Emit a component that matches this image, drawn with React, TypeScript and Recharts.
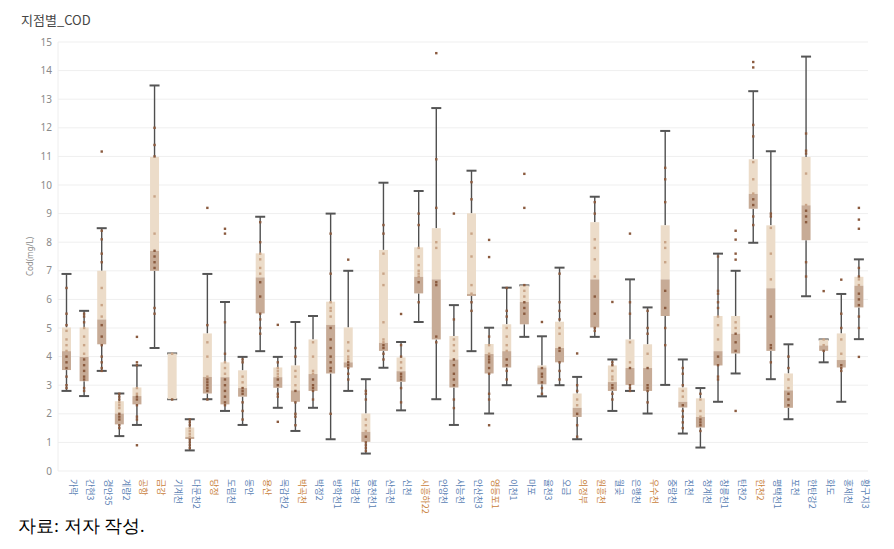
import React from "react";
import { ComposedChart, Bar, XAxis, YAxis, CartesianGrid } from "recharts";

const stations = [
  "가락", "간현3", "경안35", "계량2", "공항", "금강", "기계천", "다문천2",
  "당정", "도림천", "동안", "용산", "목감천2", "박곡천", "박정2", "방학천1",
  "보광천", "봉천천1", "산곡천", "신천", "시흥하22", "안양천", "사능천", "안산천3",
  "영등포1", "이천1", "마포", "율천3", "오금", "의정부", "원흥천", "월곶",
  "은행천", "우수천", "중랑천", "진천", "청계천", "창릉천1", "탄천2", "한천2",
  "평택천1", "포천", "한탄강2", "화도", "홍제천", "황구지3",
];

// orange labels, the rest are blue
const orangeLabels = [4, 5, 8, 11, 13, 20, 24, 29, 30, 33, 39];

const whiskerLow = [
  2.8, 2.62, 3.5, 1.22, 1.61, 4.3, 2.51, 0.72, 2.51, 2.1, 1.61, 4.19,
  2.21, 1.4, 2.21, 1.11, 2.8, 0.61, 3.61, 2.12, 5.21, 2.51, 1.61, 4.19,
  2.01, 3.0, 4.69, 2.61, 3.0, 1.11, 4.69, 2.1, 2.8, 2.01, 3.01, 1.31,
  0.82, 2.42, 3.41, 7.98, 3.21, 1.81, 6.11, 3.8, 2.42, 4.61,
];
const q1 = [
  3.53, 3.14, 4.43, 1.63, 2.33, 7.0, 2.51, 1.12, 2.71, 2.33, 2.6, 5.51,
  2.91, 2.42, 2.8, 3.41, 3.62, 1.02, 4.2, 3.12, 6.21, 4.6, 2.92, 6.12,
  3.41, 3.62, 5.13, 3.03, 3.8, 1.89, 5.02, 2.8, 3.01, 2.8, 5.42, 2.22,
  1.52, 3.69, 4.11, 9.17, 4.2, 2.21, 8.07, 4.2, 3.62, 5.72,
];
const median = [
  4.19, 3.99, 5.3, 2.01, 2.62, 7.7, 2.51, 1.19, 3.29, 3.28, 2.9, 6.77,
  3.28, 2.82, 3.39, 5.11, 3.8, 1.37, 4.48, 3.49, 6.79, 6.7, 3.9, 6.19,
  4.09, 4.19, 5.91, 3.62, 4.3, 2.21, 6.7, 3.11, 3.6, 3.6, 6.7, 2.42,
  1.89, 4.19, 4.8, 9.69, 6.39, 2.82, 9.29, 4.39, 3.88, 6.48,
];
const q3 = [
  5.02, 5.02, 7.0, 2.44, 2.92, 10.98, 4.11, 1.52, 4.81, 3.8, 3.52, 7.61,
  3.62, 3.69, 4.6, 5.92, 5.02, 2.01, 7.73, 3.97, 7.82, 8.49, 4.72, 9.01,
  4.44, 5.13, 6.49, 3.69, 5.22, 2.71, 8.7, 3.69, 4.6, 4.43, 8.59, 2.92,
  2.54, 5.42, 5.42, 10.9, 8.59, 3.41, 10.98, 4.6, 4.81, 6.79,
];
const whiskerHigh = [
  6.89, 5.6, 8.49, 2.71, 3.69, 13.48, 4.11, 1.81, 6.89, 5.91, 3.99, 8.89,
  3.99, 5.21, 5.42, 9.0, 7.0, 3.21, 10.08, 4.51, 9.79, 12.69, 5.8, 10.5,
  5.01, 6.41, 6.49, 4.71, 7.11, 3.29, 9.59, 3.9, 6.7, 5.72, 11.89, 3.9,
  2.9, 7.6, 7.0, 13.28, 11.18, 4.43, 14.49, 4.6, 6.19, 7.4,
];
const samples = [
  [6.4, 5.5, 5.1, 4.9, 4.6, 4.4, 4.2, 4.0, 3.8, 3.6, 3.3, 3.0, 2.9],
  [5.5, 5.4, 5.2, 5.0, 4.7, 4.4, 4.1, 3.9, 3.7, 3.5, 3.3, 3.2, 2.9, 2.8],
  [11.17, 8.4, 8.1, 7.6, 7.3, 6.4, 5.8, 5.4, 5.1, 4.7, 4.4, 4.0, 3.8, 3.6, 3.5],
  [2.7, 2.6, 2.5, 2.4, 2.3, 2.2, 2.0, 1.9, 1.8, 1.6, 1.5],
  [4.69, 3.8, 3.7, 2.9, 2.7, 2.6, 2.5, 2.3, 1.9, 1.8, 0.9],
  [12.0, 11.4, 11.0, 9.6, 8.3, 7.7, 7.5, 7.3, 7.1, 5.7, 5.5],
  [4.1, 2.5],
  [1.8, 1.7, 1.6, 1.5, 1.4, 1.3, 1.2, 1.1, 1.0, 0.9, 0.8],
  [9.2, 5.1, 4.5, 4.0, 3.3, 3.2, 3.1, 3.0, 2.9, 2.8, 2.5],
  [8.47, 8.3, 5.2, 4.1, 3.8, 3.6, 3.4, 3.2, 3.0, 2.8, 2.6, 2.4, 2.3],
  [3.9, 3.8, 3.3, 3.1, 2.9, 2.8, 2.7, 2.4, 2.1, 1.8],
  [8.7, 8.0, 7.6, 7.4, 7.1, 6.9, 6.6, 6.1, 5.5, 5.3, 5.0, 4.8],
  [5.11, 3.8, 3.6, 3.5, 3.4, 3.3, 3.2, 3.0, 2.7, 2.6, 1.72],
  [4.3, 4.0, 3.5, 3.3, 3.0, 2.8, 2.4, 2.0, 1.9, 1.6],
  [4.5, 4.0, 3.5, 3.4, 3.2, 3.0, 2.9, 2.8, 2.5],
  [8.3, 6.9, 5.9, 5.7, 5.6, 5.4, 5.0, 4.6, 4.3, 4.0, 3.8, 3.6, 3.5, 2.0],
  [7.39, 4.5, 4.2, 4.0, 3.9, 3.8, 3.7, 3.6, 3.4, 3.2],
  [2.8, 2.7, 2.5, 1.8, 1.6, 1.4, 1.2, 1.0, 0.9, 0.8, 0.7],
  [8.6, 8.3, 7.6, 6.9, 6.5, 5.2, 4.6, 4.5, 4.4, 4.3, 4.1, 3.9],
  [5.49, 4.4, 4.0, 3.8, 3.6, 3.4, 3.3, 3.2, 2.9, 2.4],
  [9.0, 8.6, 7.8, 7.5, 7.2, 7.0, 6.9, 6.8, 6.6, 5.9],
  [14.61, 10.9, 9.2, 8.0, 7.8, 6.6, 6.5, 4.7, 4.5],
  [9.0, 5.3, 4.6, 4.4, 4.2, 3.9, 3.7, 3.4, 3.2, 3.0, 2.5, 2.2],
  [10.1, 9.5, 8.3, 7.5, 6.5, 6.2, 5.9, 5.6],
  [8.08, 7.48, 4.7, 4.4, 4.1, 4.0, 3.9, 3.8, 3.6, 3.4, 2.7, 2.5, 1.6],
  [6.4, 5.6, 5.4, 5.0, 4.7, 4.4, 4.2, 3.9, 3.7, 3.5, 3.2],
  [10.39, 9.2, 6.5, 6.3, 6.1, 5.9, 5.7, 5.5],
  [5.21, 3.6, 3.4, 3.3, 3.1, 2.9, 2.7],
  [6.9, 5.9, 5.6, 5.3, 5.0, 4.8, 4.3, 4.2, 3.8, 3.5, 3.2],
  [4.11, 3.0, 2.8, 2.5, 2.3, 2.0, 1.6, 1.2],
  [9.4, 9.0, 8.1, 7.8, 7.4, 6.8, 6.1, 5.5, 5.0, 4.9],
  [5.91, 3.8, 3.7, 3.5, 3.3, 3.2, 3.0, 2.9, 2.7, 2.5],
  [8.3, 5.9, 5.5, 4.5, 3.8, 3.6, 3.0, 2.9, 2.8],
  [5.6, 5.0, 4.8, 4.1, 3.6, 3.0, 2.9, 2.8, 2.4],
  [10.6, 10.2, 9.4, 8.0, 7.8, 7.3, 6.3, 5.7, 5.0, 4.4],
  [3.6, 3.4, 3.0, 2.8, 2.6, 2.3, 2.1, 1.9, 1.7, 1.5],
  [2.7, 2.5, 2.1, 1.9, 1.8, 1.7, 1.6, 1.4],
  [7.5, 6.3, 6.2, 5.9, 5.7, 5.4, 5.1, 4.6, 4.0, 3.7, 3.3, 3.2],
  [8.4, 8.09, 7.6, 7.39, 5.2, 5.0, 4.8, 4.5, 4.2, 2.1],
  [14.3, 14.11, 12.1, 11.7, 10.8, 10.2, 9.7, 9.5, 9.3, 8.9, 8.6],
  [9.0, 8.9, 8.5, 7.6, 6.7, 5.4, 4.4, 4.3, 3.8],
  [4.0, 3.6, 3.2, 2.9, 2.7, 2.5, 2.3],
  [11.8, 11.2, 11.1, 10.4, 9.3, 9.1, 8.9, 8.7, 7.3, 6.8],
  [6.29, 4.6, 4.4, 4.2],
  [6.69, 5.5, 5.0, 4.6, 4.1, 3.7, 3.6, 3.5],
  [9.2, 8.79, 8.47, 7.1, 6.8, 6.7, 6.5, 6.2, 6.0, 5.8, 5.4, 5.0, 3.99],
];

const yTicks = [0, 1, 2, 3, 4, 5, 6, 7, 8, 9, 10, 11, 12, 13, 14, 15];

const data = stations.map((name, i) => ({
  name,
  low: whiskerLow[i],
  q1: q1[i],
  med: median[i],
  q3: q3[i],
  high: whiskerHigh[i],
  pts: samples[i],
}));

const LIGHT = "#ecdcc9";
const DARK = "#c7ab96";

function BoxShape(props: any) {
  const { x, y, width, height, payload } = props;
  if (!payload || !height) return null;
  const bottom = y + height;
  const unit = height / payload.high;
  const yOf = (v: number) => bottom - v * unit;
  const cx = x + width / 2;
  const hw = width / 2;
  return (
    <g>
      <line x1={cx} x2={cx} y1={yOf(payload.high)} y2={yOf(payload.q3)} stroke="#4f4f4f" strokeWidth={1.4} />
      <line x1={cx} x2={cx} y1={yOf(payload.q1)} y2={yOf(payload.low)} stroke="#4f4f4f" strokeWidth={1.4} />
      <line x1={cx - hw - 0.5} x2={cx + hw + 0.5} y1={yOf(payload.high)} y2={yOf(payload.high)} stroke="#555" strokeWidth={2} />
      <line x1={cx - hw - 0.5} x2={cx + hw + 0.5} y1={yOf(payload.low)} y2={yOf(payload.low)} stroke="#555" strokeWidth={2} />
      <rect x={x} width={width} y={yOf(payload.q3)} height={Math.max(0, yOf(payload.med) - yOf(payload.q3))} fill={LIGHT} />
      <rect x={x} width={width} y={yOf(payload.med)} height={Math.max(0, yOf(payload.q1) - yOf(payload.med))} fill={DARK} />
      {payload.pts.map((v: number, k: number) => {
        const inLight = v > payload.med && v <= payload.q3;
        return (
          <rect key={k} x={cx - 1.2} y={yOf(v) - 1.2} width={2.4} height={2.4}
            fill={inLight ? "#c9a487" : "#8a5a3e"} />
        );
      })}
    </g>
  );
}

function StationTick(props: any) {
  const { x, y, payload, index } = props;
  const color = orangeLabels.includes(index) ? "#c9823c" : "#5b7fb4";
  return (
    <text transform={`translate(${x + 3},${y}) rotate(90)`} textAnchor="start"
      fontSize={9} fill={color} fontFamily="'Noto Sans CJK KR', sans-serif">
      {payload.value}
    </text>
  );
}

export default function App() {
  return (
    <div style={{ position: "absolute", left: 0, top: 0, width: 894, height: 549, background: "#fff" }}>
      <div style={{ position: "absolute", left: 21, top: 10, fontSize: 13, color: "#454545",
        fontFamily: "'Noto Sans CJK KR', sans-serif" }}>
        지점별_COD
      </div>
      <ComposedChart width={894} height={549} data={data}
        margin={{ top: 42, right: 26, bottom: 8, left: 0 }}>
        <CartesianGrid vertical={false} stroke="#efefef" />
        <XAxis dataKey="name" interval={0} tickLine={false} axisLine={false}
          height={70} tick={<StationTick />} />
        <YAxis domain={[0, 15]} ticks={yTicks} interval={0} width={58}
          tickLine={false} tickSize={0} tickMargin={6}
          axisLine={{ stroke: "#eeeeee" }}
          tick={{ fill: "#8a8a8a", fontSize: 10, fontFamily: "'Noto Sans', sans-serif" }}
          label={{ value: "Cod(mg/L)", angle: -90, position: "insideLeft", offset: 30,
            style: { fill: "#8a8a8a", fontSize: 8, fontFamily: "'Noto Sans', sans-serif", textAnchor: "middle" } }} />
        <Bar dataKey="high" barSize={9} shape={<BoxShape />} isAnimationActive={false} />
      </ComposedChart>
      <div style={{ position: "absolute", left: 18, top: 514, fontSize: 18, color: "#000",
        fontFamily: "serif" }}>
        자료: 저자 작성.
      </div>
    </div>
  );
}
